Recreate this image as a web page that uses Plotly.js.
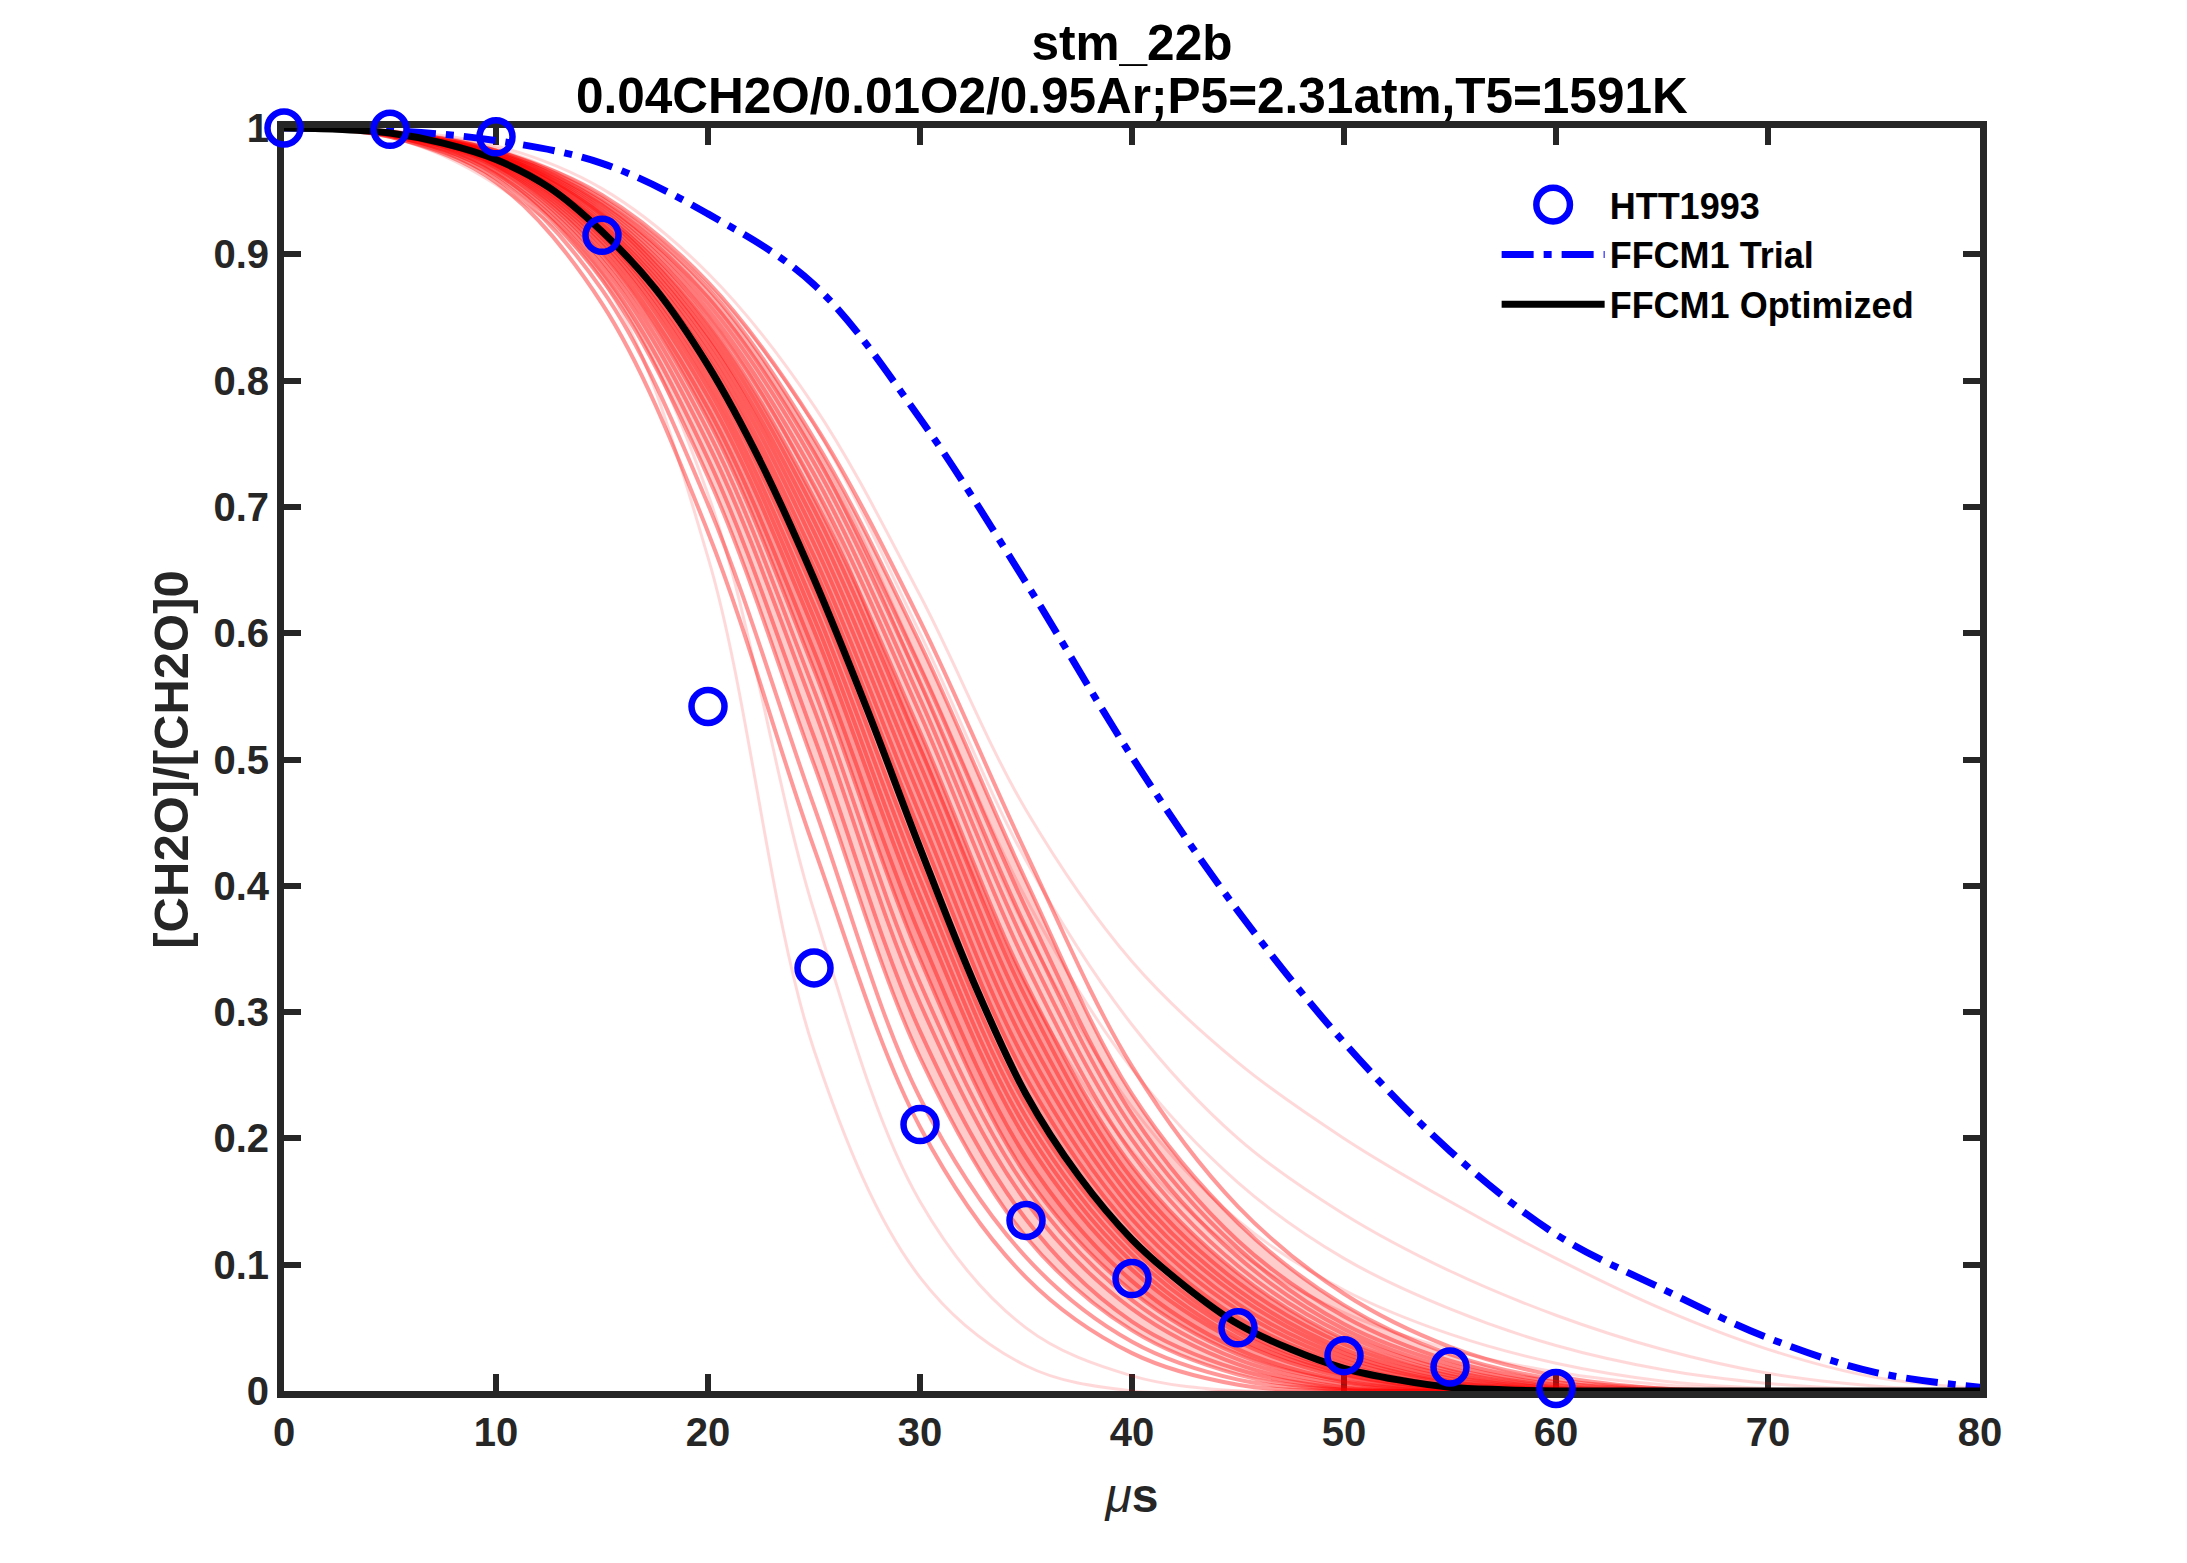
<!DOCTYPE html>
<html>
<head>
<meta charset="utf-8">
<script src="https://cdn.plot.ly/plotly-3.0.1.min.js"></script>
<style>
  html, body { margin: 0; padding: 0; background: #fff; }
  #plot { width: 2187px; height: 1563px; }
</style>
</head>
<body>
<div id="plot"></div>
<script>
// time grid (microseconds) shared by the sample curves
const timeUs = [0, 5, 10, 15, 20, 25, 30, 35, 40, 45, 50, 55, 60, 65, 70, 75, 80];

// HTT1993 measurements
const httTime = [0, 5, 10, 15, 20, 25, 30, 35, 40, 45, 50, 55, 60];
const httValue = [1.0, 0.999, 0.993, 0.915, 0.542, 0.335, 0.211, 0.135, 0.089, 0.050, 0.028, 0.019, 0.002];

// FFCM1 trial
const trialValue = [1, 0.998, 0.990, 0.972, 0.932, 0.876, 0.770, 0.640, 0.502, 0.380, 0.276, 0.190, 0.124, 0.081, 0.042, 0.015, 0.003];

// FFCM1 optimized, read on a finer grid
const optTime = [0, 2.5, 5, 7.5, 10, 12.5, 15, 17.5, 20, 22.5, 25, 27.5, 30, 32.5, 35, 37.5, 40, 42.5, 45, 47.5, 50, 52.5, 55, 57.5, 60, 70, 80];
const optValue = [1, 0.999, 0.996, 0.988, 0.975, 0.953, 0.918, 0.873, 0.812, 0.735, 0.643, 0.540, 0.430, 0.325, 0.235, 0.170, 0.120, 0.083, 0.053, 0.033, 0.018, 0.009, 0.003, 0.001, 0, 0, 0];

// uncertainty samples, main red bundle (earliest to latest)
const uqBundle = [
  [1, .993, .957, .861, .680, .430, .209, .090, .030, .005, 0, 0, 0, 0, 0, 0, 0],
  [1, .993, .960, .872, .702, .463, .232, .106, .039, .009, .001, 0, 0, 0, 0, 0, 0],
  [1, .994, .963, .880, .724, .496, .264, .122, .048, .013, .001, 0, 0, 0, 0, 0, 0],
  [1, .994, .964, .886, .738, .518, .285, .136, .055, .017, .002, 0, 0, 0, 0, 0, 0],
  [1, .994, .966, .891, .750, .540, .307, .150, .065, .021, .003, 0, 0, 0, 0, 0, 0],
  [1, .995, .968, .895, .760, .555, .323, .161, .072, .025, .005, 0, 0, 0, 0, 0, 0],
  [1, .995, .969, .899, .769, .571, .342, .171, .079, .029, .007, 0, 0, 0, 0, 0, 0],
  [1, .995, .970, .903, .778, .586, .361, .185, .087, .033, .008, .001, 0, 0, 0, 0, 0],
  [1, .996, .971, .907, .787, .602, .380, .199, .096, .039, .011, .001, 0, 0, 0, 0, 0],
  [1, .996, .972, .910, .794, .612, .392, .208, .102, .042, .013, .002, 0, 0, 0, 0, 0],
  [1, .996, .973, .913, .800, .622, .405, .217, .108, .046, .014, .002, 0, 0, 0, 0, 0],
  [1, .996, .974, .915, .806, .633, .417, .226, .114, .049, .016, .003, 0, 0, 0, 0, 0],
  [1, .996, .975, .918, .812, .643, .430, .235, .120, .053, .018, .003, 0, 0, 0, 0, 0],
  [1, .996, .976, .920, .817, .652, .443, .248, .128, .058, .021, .004, 0, 0, 0, 0, 0],
  [1, .996, .976, .922, .822, .661, .456, .260, .136, .064, .024, .006, 0, 0, 0, 0, 0],
  [1, .996, .977, .924, .827, .671, .470, .273, .144, .069, .027, .007, .001, 0, 0, 0, 0],
  [1, .996, .977, .926, .832, .680, .483, .285, .152, .075, .030, .008, .001, 0, 0, 0, 0],
  [1, .996, .978, .929, .836, .689, .496, .298, .160, .080, .033, .010, .001, 0, 0, 0, 0],
  [1, .996, .978, .931, .841, .698, .509, .311, .168, .086, .037, .012, .002, 0, 0, 0, 0],
  [1, .996, .979, .933, .846, .707, .522, .323, .178, .093, .041, .014, .002, 0, 0, 0, 0],
  [1, .996, .979, .935, .851, .717, .536, .338, .188, .099, .045, .016, .003, 0, 0, 0, 0],
  [1, .996, .980, .937, .856, .726, .548, .352, .199, .106, .049, .018, .004, 0, 0, 0, 0],
  [1, .996, .980, .939, .861, .735, .561, .367, .209, .113, .053, .021, .005, .001, 0, 0, 0],
  [1, .996, .981, .941, .866, .743, .573, .382, .219, .119, .059, .024, .007, .001, 0, 0, 0],
  [1, .997, .982, .944, .873, .754, .592, .404, .235, .133, .068, .029, .009, .002, 0, 0, 0],
  [1, .997, .982, .947, .878, .766, .610, .426, .257, .146, .077, .035, .012, .002, 0, 0, 0]
];

// uncertainty samples, faint strays (early drop-offs and long tails)
const uqStray = [
  [1, .993, .955, .880, .660, .270, .090, .020, 0, 0, 0, 0, 0, 0, 0, 0, 0],
  [1, .994, .960, .885, .710, .380, .150, .050, .012, 0, 0, 0, 0, 0, 0, 0, 0],
  [1, .998, .986, .952, .885, .780, .630, .460, .340, .260, .200, .150, .105, .065, .033, .011, .002],
  [1, .997, .984, .946, .876, .765, .600, .420, .290, .200, .140, .095, .060, .033, .014, .004, 0],
  [1, .997, .983, .943, .870, .750, .575, .390, .255, .165, .105, .065, .036, .017, .006, .001, 0],
  [1, .997, .982, .940, .866, .745, .560, .365, .225, .135, .080, .045, .022, .008, .002, 0, 0],
  [1, .996, .980, .932, .852, .715, .510, .320, .190, .110, .062, .033, .015, .005, .001, 0, 0]
];

const titleLine1 = 'stm_22b';
const titleLine2 = '0.04CH2O/0.01O2/0.95Ar;P5=2.31atm,T5=1591K';
const xLabel = '<span style="font-weight:normal;font-style:italic">μ</span>s';
const yLabel = '[CH2O]/[CH2O]0';

const FONT = 'Liberation Sans, Arial, Helvetica, sans-serif';
const AXIS_COLOR = '#262626';

var traces = [];

function addSample(s, alpha, width) {
    traces.push({
        x: timeUs,
        y: s,
        mode: 'lines',
        line: { color: 'rgba(255,0,0,' + alpha + ')', width: width, shape: 'spline' },
        hoverinfo: 'skip',
        showlegend: false
    });
}

// soft haze between two sample curves, stands in for the many overlapping runs
function addHaze(lo, hi, alpha) {
    traces.push({
        x: timeUs, y: lo, mode: 'lines',
        line: { width: 0, shape: 'spline' },
        hoverinfo: 'skip', showlegend: false
    });
    traces.push({
        x: timeUs, y: hi, mode: 'lines',
        line: { width: 0, shape: 'spline' },
        fill: 'tonexty', fillcolor: 'rgba(255,0,0,' + alpha + ')',
        hoverinfo: 'skip', showlegend: false
    });
}

var nb = uqBundle.length;
addHaze(uqBundle[2], uqBundle[nb - 2], 0.2);
addHaze(uqBundle[6], uqBundle[nb - 7], 0.25);

// red sample curves first so everything else sits on top
uqStray.forEach(function (s) { addSample(s, 0.15, 3); });
uqBundle.forEach(function (s) { addSample(s, 0.4, 4); });

traces.push({
    x: timeUs,
    y: trialValue,
    mode: 'lines',
    name: 'FFCM1 Trial',
    legendrank: 2,
    line: { color: '#0000ff', width: 7, dash: '32px,10px,8px,10px', shape: 'spline' }
});

traces.push({
    x: optTime,
    y: optValue,
    mode: 'lines',
    name: 'FFCM1 Optimized',
    legendrank: 3,
    line: { color: '#000000', width: 7, shape: 'spline' }
});

traces.push({
    x: httTime,
    y: httValue,
    mode: 'markers',
    name: 'HTT1993',
    legendrank: 1,
    cliponaxis: false,
    marker: { symbol: 'circle-open', size: 33, color: '#0000ff', line: { color: '#0000ff', width: 6.5 } }
});

var axisCommon = {
    ticks: 'inside',
    ticklen: 17,
    tickwidth: 6,
    tickcolor: AXIS_COLOR,
    showline: true,
    linewidth: 7,
    linecolor: AXIS_COLOR,
    mirror: 'ticks',
    showgrid: false,
    zeroline: false,
    layer: 'below traces',
    fixedrange: true,
    tickfont: { family: FONT, size: 40, color: AXIS_COLOR, weight: 'bold' }
};

var titleFont = { family: FONT, size: 49.5, color: '#000000', weight: 'bold' };

var layout = {
    width: 2187,
    height: 1563,
    margin: { l: 284, r: 207, t: 128, b: 172 },
    paper_bgcolor: '#ffffff',
    plot_bgcolor: '#ffffff',
    title: {
        text: titleLine1,
        font: titleFont,
        xref: 'paper', x: 0.5, xanchor: 'center',
        yref: 'container', y: 0.9725, yanchor: 'middle'
    },
    annotations: [{
        text: titleLine2,
        xref: 'paper', x: 0.5, xanchor: 'center',
        yref: 'paper', y: 1.0261, yanchor: 'middle',
        showarrow: false,
        font: titleFont
    }],
    xaxis: Object.assign({}, axisCommon, {
        range: [0, 80],
        tick0: 0,
        dtick: 10,
        title: { text: xLabel, standoff: 28, font: { family: FONT, size: 48, color: AXIS_COLOR, weight: 'bold' } }
    }),
    yaxis: Object.assign({}, axisCommon, {
        range: [0, 1],
        tick0: 0,
        dtick: 0.1,
        title: { text: yLabel, standoff: 12, font: { family: FONT, size: 49, color: AXIS_COLOR, weight: 'bold' } }
    }),
    showlegend: true,
    legend: {
        x: 0.715, xanchor: 'left',
        y: 0.963, yanchor: 'top',
        traceorder: 'normal',
        bgcolor: 'rgba(0,0,0,0)',
        borderwidth: 0,
        itemwidth: 103,
        tracegroupgap: 0,
        font: { family: FONT, size: 36, color: '#000000', weight: 'bold' }
    }
};

Plotly.newPlot('plot', traces, layout, { displayModeBar: false, staticPlot: true }).then(function (gd) {
    // plotly caps legend marker size at 16px, so blow the HTT1993 circle up to plot size
    gd.querySelectorAll('.legend .traces').forEach(function (g) {
        if (g.textContent.indexOf('HTT1993') === -1) return;
        g.querySelectorAll('.legendpoints path').forEach(function (p) {
            var tr = p.getAttribute('transform') || '';
            p.setAttribute('transform', tr + ' scale(2.1)');
            p.style.strokeWidth = (6.5 / 2.1) + 'px';
        });
    });
});
</script>
</body>
</html>
